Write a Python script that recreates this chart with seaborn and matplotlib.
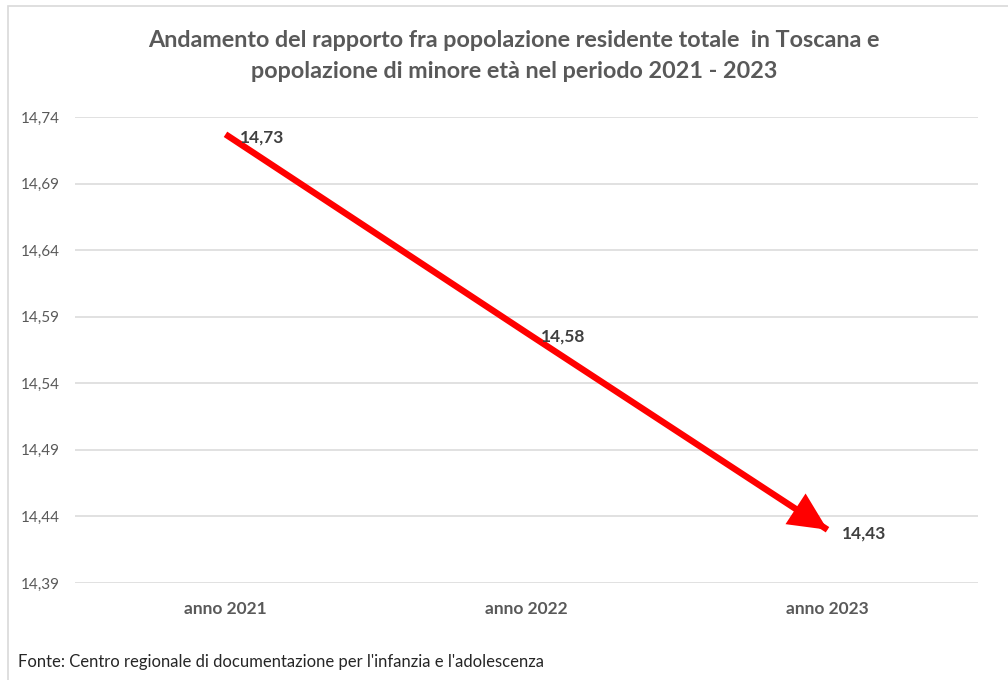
import matplotlib
matplotlib.use("Agg")
import matplotlib.pyplot as plt
import seaborn as sns
import pandas as pd
from matplotlib.patches import Rectangle

categories = ["anno 2021", "anno 2022", "anno 2023"]
values = [14.727, 14.578, 14.43]
y_ticks = [14.39, 14.44, 14.49, 14.54, 14.59, 14.64, 14.69, 14.74]

title = ("Andamento del rapporto fra popolazione residente totale  in Toscana e\n"
         "popolazione di minore età nel periodo 2021 - 2023")
footer = "Fonte: Centro regionale di documentazione per l'infanzia e l'adolescenza"

sns.set_theme(style="white")
plt.rcParams['font.family'] = ['Lato', 'DejaVu Sans']

df = pd.DataFrame({"anno": categories, "valore": values})

W, H = 1008, 680
fig = plt.figure(figsize=(W / 100, H / 100), dpi=100)
fig.patch.set_facecolor("white")

# chart border
fig.add_artist(Rectangle((8 / W, -0.1), 1.2, 1 - 6 / H + 0.1, transform=fig.transFigure,
                         fill=False, edgecolor="#d9d9d9", linewidth=1.2))

ax = fig.add_axes([75 / W, 1 - 583 / H, (978 - 75) / W, (583 - 117) / H])
sns.lineplot(data=df, x="anno", y="valore", ax=ax, color="#ff0000", linewidth=4.6,
             sort=False, solid_capstyle="butt")

# arrowhead on the last segment
ax.annotate("", xy=(2, values[2]), xytext=(1, values[1]),
            arrowprops=dict(arrowstyle="-|>,head_length=1.25,head_width=0.6",
                            mutation_scale=22, color="#ff0000", lw=0,
                            shrinkA=0, shrinkB=0))

ax.set_xlim(-0.5, 2.5)
ax.set_ylim(y_ticks[0], y_ticks[-1])
ax.set_yticks(y_ticks)
ax.set_yticklabels([f"{t:.2f}".replace(".", ",") for t in y_ticks],
                   color="#595959", fontsize=11)
ax.set_xticks(range(len(categories)))
ax.set_xticklabels(categories, color="#595959", fontsize=12.5, fontweight="bold")
ax.tick_params(axis="x", length=0, pad=13)
ax.tick_params(axis="y", length=0, pad=11)
ax.set_xlabel("")
ax.set_ylabel("")
ax.grid(axis="y", color="#d9d9d9", linewidth=1.1)
ax.grid(axis="x", visible=False)
for s in ax.spines.values():
    s.set_visible(False)

for i, v in enumerate(values):
    ax.annotate(f"{v:.2f}".replace(".", ","), xy=(i, v), xytext=(10.5, -2.5),
                textcoords="offset points", ha="left", va="center",
                fontsize=12.5, fontweight="bold", color="#404040")

fig.text(514 / W, 1 - 56 / H, title, ha="center", va="center", fontsize=16.8,
         fontweight="bold", color="#595959", linespacing=1.6)
fig.text(18 / W, 1 - 662 / H, footer, ha="left", va="center", fontsize=12,
         color="#262626")

fig.savefig("out.png", dpi=100)
